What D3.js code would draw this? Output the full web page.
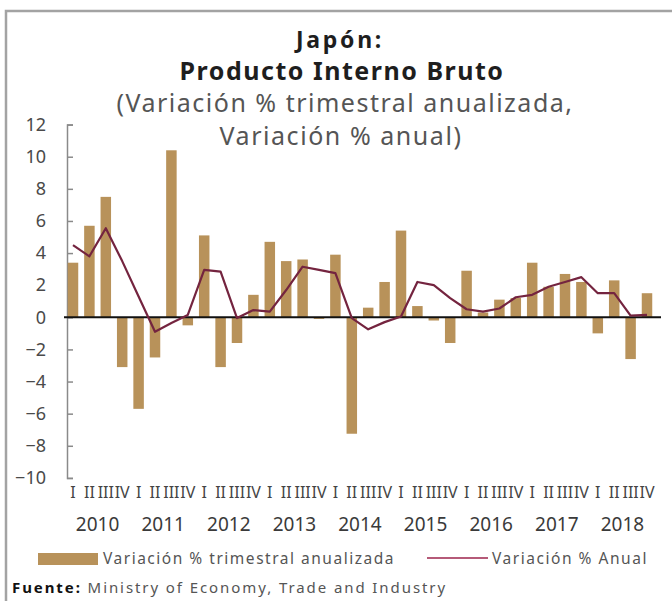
<!DOCTYPE html>
<html>
<head>
<meta charset="utf-8">
<script src="https://cdn.jsdelivr.net/npm/d3@7"></script>
<style>
  body { margin: 0; background: #fff; }
  svg { display: block; }
</style>
</head>
<body>
<script>
const years = ["2010", "2011", "2012", "2013", "2014", "2015", "2016", "2017", "2018"];
const quarterLabels = ["I", "II", "III", "IV"];
// Variación % trimestral anualizada
const trimestral = [
  3.4, 5.7, 7.5, -3.1,
  -5.7, -2.5, 10.4, -0.5,
  5.1, -3.1, -1.6, 1.4,
  4.7, 3.5, 3.6, -0.1,
  3.9, -7.25, 0.6, 2.2,
  5.4, 0.7, -0.2, -1.6,
  2.9, 0.3, 1.1, 1.2,
  3.4, 1.9, 2.7, 2.2,
  -1.0, 2.3, -2.6, 1.5
];
// Variación % anual
const anual = [
  4.5, 3.8, 5.55, 3.5,
  1.3, -0.9, -0.35, 0.15,
  2.95, 2.85, -0.05, 0.45,
  0.35, 1.7, 3.15, 2.95,
  2.75, -0.05, -0.75, -0.3,
  0.05, 2.2, 2.0, 1.2,
  0.5, 0.35, 0.55, 1.25,
  1.4, 1.9, 2.2, 2.5,
  1.5, 1.5, 0.1, 0.15
];
const yTicks = [-10, -8, -6, -4, -2, 0, 2, 4, 6, 8, 10, 12];

const width = 672;
const height = 601;
const font = "'Noto Sans', 'Open Sans', sans-serif";
const barColor = "#b8925a";
const lineColor = "#74243f";

const quarters = [];
years.forEach(yr => quarterLabels.forEach(q => quarters.push(yr + "-" + q)));

const svg = d3.select("body").append("svg")
  .attr("width", width)
  .attr("height", height)
  .style("font-family", font);

// frame (only top and left are visible in the crop)
svg.append("path")
  .attr("d", `M6,${height} V11 H${width}`)
  .attr("fill", "none")
  .attr("stroke", "#a3a3a3")
  .attr("stroke-width", 2.5);

// widen a text with letter-spacing so it covers the same width as in the original
function fit(sel, target) {
  const len = sel.node().getComputedTextLength();
  const n = sel.text().length;
  sel.attr("letter-spacing", Math.max(0, (target - len) / n));
  return sel;
}

// titles
const title = svg.append("g").attr("text-anchor", "middle");
fit(title.append("text").attr("x", 340).attr("y", 48)
  .attr("font-size", 23).attr("font-weight", "bold").attr("fill", "#1e1e1e")
  .text("Japón:"), 88);
fit(title.append("text").attr("x", 342).attr("y", 80)
  .attr("font-size", 25).attr("font-weight", "bold").attr("fill", "#1e1e1e")
  .text("Producto Interno Bruto"), 325);
fit(title.append("text").attr("x", 345).attr("y", 112)
  .attr("font-size", 25).attr("fill", "#555")
  .text("(Variación % trimestral anualizada,"), 457);
fit(title.append("text").attr("x", 341).attr("y", 145)
  .attr("font-size", 25).attr("fill", "#555")
  .text("Variación % anual)"), 243);

// scales
const x = d3.scaleBand()
  .domain(quarters)
  .range([64.8, 655.2])
  .paddingInner(0.36)
  .paddingOuter(0.18);

const y = d3.scaleLinear()
  .domain([-10, 12])
  .range([477.9, 124.6]);

// y axis
const yAxis = svg.append("g")
  .attr("transform", "translate(67,0)")
  .call(d3.axisLeft(y).tickValues(yTicks).tickSize(-6).tickPadding(21));
yAxis.select(".domain").attr("stroke", "#8a8a8a").attr("stroke-width", 1.5);
yAxis.selectAll(".tick line").attr("stroke", "#8a8a8a").attr("stroke-width", 1.5);
yAxis.selectAll(".tick text")
  .attr("font-size", 18)
  .attr("font-family", font)
  .attr("fill", "#4a4a4a");

// bars
svg.append("g")
  .selectAll("rect")
  .data(trimestral)
  .enter()
  .append("rect")
  .attr("x", (d, i) => x(quarters[i]))
  .attr("width", x.bandwidth())
  .attr("y", d => y(Math.max(0, d)))
  .attr("height", d => Math.abs(y(d) - y(0)))
  .attr("fill", barColor);

// zero line
svg.append("line")
  .attr("x1", 64).attr("x2", 661)
  .attr("y1", y(0)).attr("y2", y(0))
  .attr("stroke", "#111")
  .attr("stroke-width", 2);

// annual line
const line = d3.line()
  .x((d, i) => x(quarters[i]) + x.bandwidth() / 2)
  .y(d => y(d));

svg.append("path")
  .datum(anual)
  .attr("d", line)
  .attr("fill", "none")
  .attr("stroke", lineColor)
  .attr("stroke-width", 2.2)
  .attr("stroke-linejoin", "round");

// x labels: quarters and years
svg.append("g")
  .attr("text-anchor", "middle")
  .attr("font-size", 16)
  .attr("fill", "#444")
  .selectAll("text")
  .data(quarters)
  .enter()
  .append("text")
  .attr("x", d => x(d) + x.bandwidth() / 2)
  .attr("y", 498)
  .text(d => d.split("-")[1]);

svg.append("g")
  .attr("text-anchor", "middle")
  .attr("font-size", 19)
  .attr("fill", "#3a3a3a")
  .selectAll("text")
  .data(years)
  .enter()
  .append("text")
  .attr("x", d => (x(d + "-I") + x(d + "-IV") + x.bandwidth()) / 2)
  .attr("y", 531)
  .text(d => d);

// legend
svg.append("rect")
  .attr("x", 38).attr("y", 553)
  .attr("width", 60).attr("height", 12)
  .attr("fill", barColor);
fit(svg.append("text").attr("x", 103).attr("y", 564)
  .attr("font-size", 15.5).attr("fill", "#555")
  .text("Variación % trimestral anualizada"), 292);

svg.append("line")
  .attr("x1", 427).attr("x2", 488)
  .attr("y1", 558).attr("y2", 558)
  .attr("stroke", "#b55a78")
  .attr("stroke-width", 2);
fit(svg.append("text").attr("x", 492).attr("y", 564)
  .attr("font-size", 15.5).attr("fill", "#555")
  .text("Variación % Anual"), 156);

// source
const src = svg.append("text")
  .attr("x", 12).attr("y", 593)
  .attr("font-size", 15).attr("fill", "#555");
src.append("tspan").attr("font-weight", "bold").attr("fill", "#111").text("Fuente:");
src.append("tspan").text(" Ministry of Economy, Trade and Industry");
fit(src, 435);
</script>
</body>
</html>
